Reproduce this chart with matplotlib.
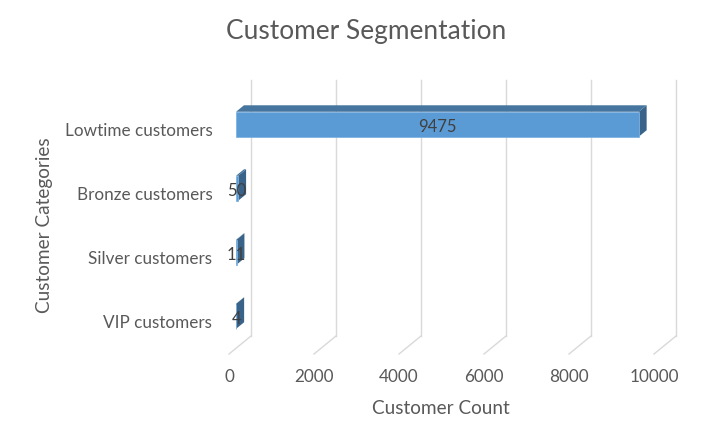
import numpy as np
import matplotlib.pyplot as plt
from matplotlib.patches import Polygon

plt.rcParams['font.family'] = ['Lato', 'DejaVu Sans']

categories = ['VIP customers', 'Silver customers', 'Bronze customers', 'Lowtime customers']
counts = [4, 11, 50, 9475]
xticks = [0, 2000, 4000, 6000, 8000, 10000]

W, H = 728, 442
fig = plt.figure(figsize=(W / 100, H / 100), dpi=100)
# front plane of the 3d box, in pixels
left_px, right_px, floor_px, top_px = 229, 654, 354, 98
ax = fig.add_axes([left_px / W, 1 - floor_px / H, (right_px - left_px) / W, (floor_px - top_px) / H])
ax.set_xlim(0, 10000)
ax.set_ylim(-0.5, 3.5)
for s in ax.spines.values():
    s.set_visible(False)

# depth offsets (back wall = depth 1)
dx = 22 / (right_px - left_px) * 10000
dy = 18 / ((floor_px - top_px) / 4)

grid_c = '#D9D9D9'
for t in xticks:
    ax.plot([t + dx, t + dx], [-0.5 + dy, 3.5 + dy], color=grid_c, lw=1, clip_on=False, zorder=1)
    ax.plot([t, t + dx], [-0.5, -0.5 + dy], color=grid_c, lw=1, clip_on=False, zorder=1)

d0, d1 = 0.32, 0.68
h = 0.195
front_c, top_c, side_c = '#5B9BD5', '#46769F', '#3A6389'
for i, v in enumerate(counts):
    x0 = d0 * dx
    x1 = v + d0 * dx
    yc = i + d0 * dy
    ddx = (d1 - d0) * dx
    ddy = (d1 - d0) * dy
    side = Polygon([(x1, yc - h), (x1 + ddx, yc - h + ddy), (x1 + ddx, yc + h + ddy), (x1, yc + h)],
                   closed=True, fc=side_c, ec='none', clip_on=False, zorder=3)
    top = Polygon([(x0, yc + h), (x1, yc + h), (x1 + ddx, yc + h + ddy), (x0 + ddx, yc + h + ddy)],
                  closed=True, fc=top_c, ec='none', clip_on=False, zorder=3)
    ax.add_patch(side)
    ax.add_patch(top)
    ax.add_patch(plt.Rectangle((x0, yc - h), v, 2 * h, fc=front_c, ec='#7FB2E0', lw=0.6,
                               clip_on=False, zorder=4))
    # data label sits a touch below the face centre
    ax.text((x0 + x1) / 2, yc - 0.04, str(v), ha='center', va='center', fontsize=12, color='#404040', zorder=5)

ax.set_xticks(xticks)
ax.set_xticklabels([str(t) for t in xticks])
ax.set_yticks(range(len(categories)))
ax.set_yticklabels(categories)
ax.tick_params(axis='both', length=0, labelsize=12.3, labelcolor='#595959')
ax.tick_params(axis='x', pad=11)
ax.tick_params(axis='y', pad=12)

ax.set_xlabel('Customer Count', fontsize=13.7, color='#595959', va='center')
ax.xaxis.set_label_coords(0.499, -0.211)
ax.set_ylabel('Customer Categories', fontsize=13.7, color='#595959', va='center')
ax.yaxis.set_label_coords(-0.433, 0.504)

fig.text(366 / W, 1 - 32 / H, 'Customer Segmentation', ha='center', va='center', fontsize=18.9, color='#595959')

fig.savefig('out.png', dpi=100)
